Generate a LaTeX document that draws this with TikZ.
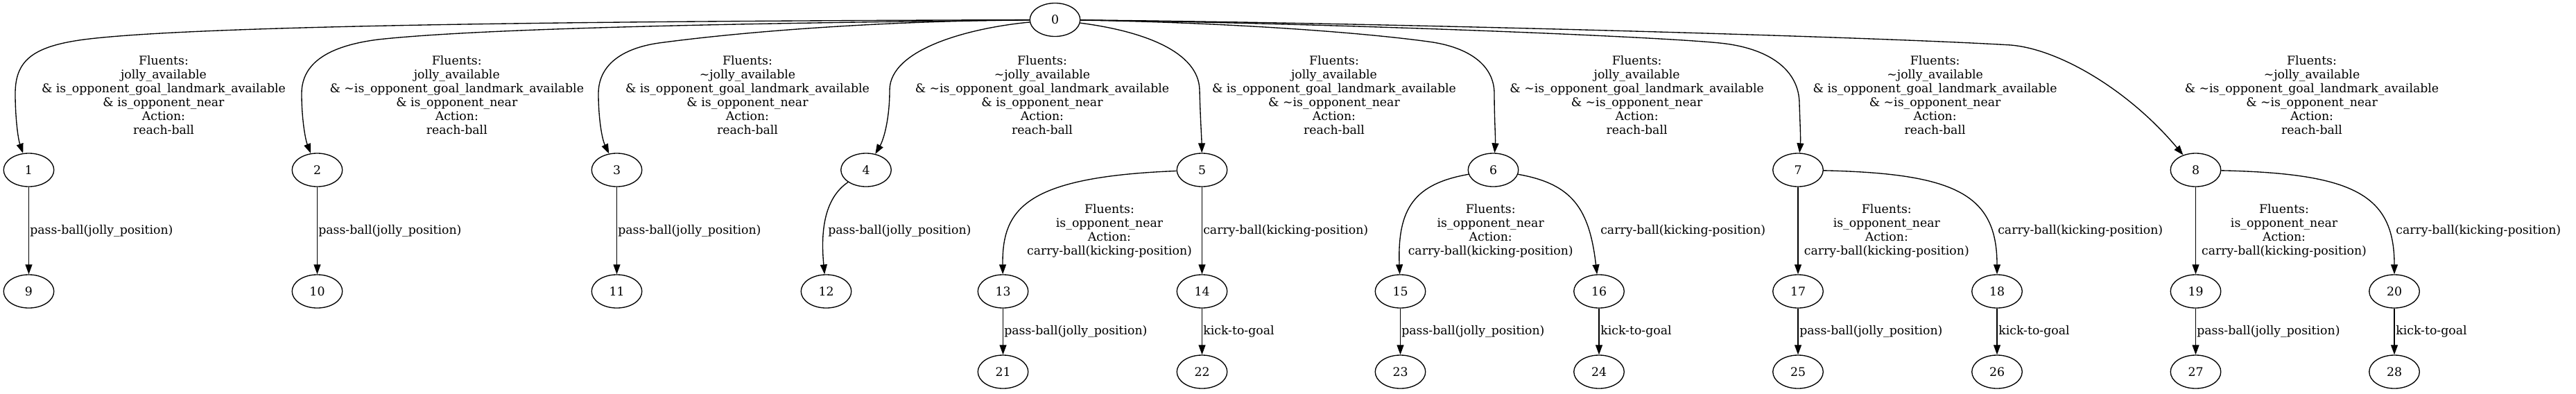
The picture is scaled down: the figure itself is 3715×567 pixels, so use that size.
\documentclass[tikz,border=0pt]{standalone}
\usepackage{fontspec}
\setmainfont{DejaVu Serif}
\usetikzlibrary{shapes.geometric,arrows.meta}
\newcommand{\tld}{\textasciitilde}
\newcommand{\lfont}{\fontsize{12.86pt}{14.86pt}\selectfont}
\begin{document}
\begin{tikzpicture}[x=0.7432pt,y=-0.7432pt,
  st/.style={draw,ellipse,line width=1pt,minimum width=53.9pt,minimum height=35.7pt,inner sep=0pt,font=\lfont},
  edge/.style={line width=1pt,-{Triangle[length=10.4pt,width=7.4pt]}},
  lab/.style={align=center,inner sep=0pt,font=\lfont},
  slab/.style={anchor=west,inner sep=0pt,font=\lfont}]
\useasboundingbox (0,0) rectangle (3715,567);
% nodes
\node[st] (n0) at (1521.5,28.5) {0};
\node[st] (n1) at (41.5,245) {1};
\node[st] (n2) at (457.5,245) {2};
\node[st] (n3) at (889.5,245) {3};
\node[st] (n4) at (1249,245) {4};
\node[st] (n5) at (1733.5,245) {5};
\node[st] (n6) at (2153.5,245) {6};
\node[st] (n7) at (2593,245) {7};
\node[st] (n8) at (3166.5,245) {8};
\node[st] (n9) at (41.5,420) {9};
\node[st] (n10) at (457.5,420) {10};
\node[st] (n11) at (889.5,420) {11};
\node[st] (n12) at (1191.5,420) {12};
\node[st] (n13) at (1446.5,420) {13};
\node[st] (n14) at (1733.5,420) {14};
\node[st] (n15) at (2019.5,420) {15};
\node[st] (n16) at (2306,420) {16};
\node[st] (n17) at (2593,420) {17};
\node[st] (n18) at (2880,420) {18};
\node[st] (n19) at (3166.5,420) {19};
\node[st] (n20) at (3453,420) {20};
\node[st] (n21) at (1446.5,536) {21};
\node[st] (n22) at (1733.5,536) {22};
\node[st] (n23) at (2019.5,536) {23};
\node[st] (n24) at (2306,536) {24};
\node[st] (n25) at (2593,536) {25};
\node[st] (n26) at (2880,536) {26};
\node[st] (n27) at (3166.5,536) {27};
\node[st] (n28) at (3453,536) {28};
% edges from 0
\draw[edge] (n0) .. controls (1000,30) and (300,34) .. (121,57) .. controls (46,67) and (22,88) .. (22,135) .. controls (22,170) and (26,200) .. (n1);
\draw[edge] (n0) .. controls (1100,33) and (700,40) .. (545,57) .. controls (475,66) and (435,90) .. (435,135) .. controls (435,170) and (440,200) .. (n2);
\draw[edge] (n0) .. controls (1300,30) and (1100,42) .. (950,62) .. controls (895,70) and (863,95) .. (863,135) .. controls (863,170) and (868,200) .. (n3);
\draw[edge] (n0) .. controls (1400,40) and (1283,70) .. (1283,130) .. controls (1283,170) and (1275,200) .. (n4);
\draw[edge] (n0) .. controls (1650,45) and (1729,75) .. (1730,130) .. controls (1731,170) and (1733,200) .. (n5);
\draw[edge] (n0) .. controls (1750,32) and (1950,45) .. (2060,60) .. controls (2120,68) and (2155,95) .. (2155,135) .. controls (2155,170) and (2157,200) .. (n6);
\draw[edge] (n0) .. controls (1900,33) and (2380,52) .. (2480,62) .. controls (2550,69) and (2595,100) .. (2595,150) .. controls (2596,180) and (2597,200) .. (n7);
\draw[edge] (n0) .. controls (2000,33) and (2700,53) .. (2900,65) .. controls (2970,71) and (3070,130) .. (n8);
% second level
\draw[edge] (n1) -- (n9);
\draw[edge] (n2) -- (n10);
\draw[edge] (n3) -- (n11);
\draw[edge] (n4) .. controls (1190,285) and (1183,330) .. (n12);
\draw[edge] (n5) .. controls (1480,255) and (1445,300) .. (n13);
\draw[edge] (n5) -- (n14);
\draw[edge] (n6) .. controls (2040,265) and (2015,300) .. (n15);
\draw[edge] (n6) .. controls (2267,265) and (2292,300) .. (n16);
\draw[edge] (n7) -- (n17);
\draw[edge] (n7) .. controls (2820,250) and (2880,280) .. (n18);
\draw[edge] (n8) -- (n19);
\draw[edge] (n8) .. controls (3393.5,250) and (3453,280) .. (n20);
% third level
\draw[edge] (n13) -- (n21);
\draw[edge] (n14) -- (n22);
\draw[edge] (n15) -- (n23);
\draw[edge] (n16) -- (n24);
\draw[edge] (n17) -- (n25);
\draw[edge] (n18) -- (n26);
\draw[edge] (n19) -- (n27);
\draw[edge] (n20) -- (n28);
% labels row 1
\node[lab] (l1) at (236,136.7) {Fluents:\\jolly\_available\\\& is\_opponent\_goal\_landmark\_available\\\& is\_opponent\_near\\Action:\\reach-ball};
\node[lab] (l2) at (658.8,136.7) {Fluents:\\jolly\_available\\\& \tld is\_opponent\_goal\_landmark\_available\\\& is\_opponent\_near\\Action:\\reach-ball};
\node[lab] (l3) at (1078,136.7) {Fluents:\\\tld jolly\_available\\\& is\_opponent\_goal\_landmark\_available\\\& is\_opponent\_near\\Action:\\reach-ball};
\node[lab] (l4) at (1503,136.7) {Fluents:\\\tld jolly\_available\\\& \tld is\_opponent\_goal\_landmark\_available\\\& is\_opponent\_near\\Action:\\reach-ball};
\node[lab] (l5) at (1924,136.7) {Fluents:\\jolly\_available\\\& is\_opponent\_goal\_landmark\_available\\\& \tld is\_opponent\_near\\Action:\\reach-ball};
\node[lab] (l6) at (2360.6,136.7) {Fluents:\\jolly\_available\\\& \tld is\_opponent\_goal\_landmark\_available\\\& \tld is\_opponent\_near\\Action:\\reach-ball};
\node[lab] (l7) at (2790.6,136.7) {Fluents:\\\tld jolly\_available\\\& is\_opponent\_goal\_landmark\_available\\\& \tld is\_opponent\_near\\Action:\\reach-ball};
\node[lab] (l8) at (3334,136.7) {Fluents:\\\tld jolly\_available\\\& \tld is\_opponent\_goal\_landmark\_available\\\& \tld is\_opponent\_near\\Action:\\reach-ball};
% labels row 2
\node[slab] (l9) at (43,332.7) {pass-ball(jolly\_position)};
\node[slab] (l10) at (459,332.7) {pass-ball(jolly\_position)};
\node[slab] (l11) at (891,332.7) {pass-ball(jolly\_position)};
\node[slab] (l12) at (1194,333) {pass-ball(jolly\_position)};
\node[lab] (l13) at (1600,332.7) {Fluents:\\is\_opponent\_near\\Action:\\carry-ball(kicking-position)};
\node[slab] (l14) at (1735,332.7) {carry-ball(kicking-position)};
\node[lab] (l15) at (2149.7,332.7) {Fluents:\\is\_opponent\_near\\Action:\\carry-ball(kicking-position)};
\node[slab] (l16) at (2308,332.7) {carry-ball(kicking-position)};
\node[lab] (l17) at (2720.8,332.7) {Fluents:\\is\_opponent\_near\\Action:\\carry-ball(kicking-position)};
\node[slab] (l18) at (2881,332.7) {carry-ball(kicking-position)};
\node[lab] (l19) at (3294,332.7) {Fluents:\\is\_opponent\_near\\Action:\\carry-ball(kicking-position)};
\node[slab] (l20) at (3455,332.7) {carry-ball(kicking-position)};
% labels row 3
\node[slab] (l21) at (1448,478.3) {pass-ball(jolly\_position)};
\node[slab] (l22) at (1735,478.3) {kick-to-goal};
\node[slab] (l23) at (2021,478.3) {pass-ball(jolly\_position)};
\node[slab] (l24) at (2308,478.3) {kick-to-goal};
\node[slab] (l25) at (2595,478.3) {pass-ball(jolly\_position)};
\node[slab] (l26) at (2882,478.3) {kick-to-goal};
\node[slab] (l27) at (3168,478.3) {pass-ball(jolly\_position)};
\node[slab] (l28) at (3455,478.3) {kick-to-goal};
\end{tikzpicture}
\end{document}
